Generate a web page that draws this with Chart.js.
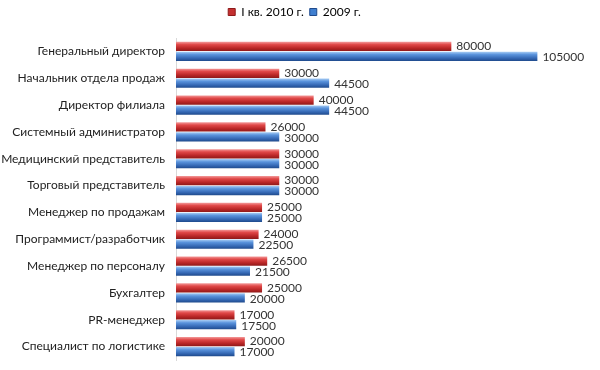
<!DOCTYPE html>
<html>
<head>
<meta charset="utf-8">
<script src="https://cdn.jsdelivr.net/npm/chart.js@4"></script>
<style>
  html, body { margin: 0; padding: 0; background: #fff; }
  #wrap { width: 600px; height: 370px; position: relative; }
</style>
</head>
<body>
<div id="wrap"><canvas id="chart"></canvas></div>
<script>
// ── Data ───────────────────────────────────────────────────────────────────────
const POSITIONS = [
  'Генеральный директор',
  'Начальник отдела продаж',
  'Директор филиала',
  'Системный администратор',
  'Медицинский представитель',
  'Торговый представитель',
  'Менеджер по продажам',
  'Программист/разработчик',
  'Менеджер по персоналу',
  'Бухгалтер',
  'PR-менеджер',
  'Специалист по логистике',
];
const SALARY_2010Q1 = [80000, 30000, 40000, 26000, 30000, 30000, 25000, 24000, 26500, 25000, 17000, 20000];
const SALARY_2009   = [105000, 44500, 44500, 30000, 30000, 30000, 25000, 22500, 21500, 20000, 17500, 17000];

const FONT = 'Lato';

// gradient stops per series (light top → dark bottom)
const RED_STOPS  = ['#f39a9a', '#e04848', '#b82626', '#8e1a1a'];
const BLUE_STOPS = ['#a7ccf4', '#5a93dc', '#3568b4', '#1f4a8c'];

// ── Plugins ────────────────────────────────────────────────────────────────────
// extra room under the legend so the plot starts lower
const legendGap = {
  id: 'legendGap',
  beforeInit(chart) {
    const fit = chart.legend.fit;
    chart.legend.fit = function () {
      fit.call(this);
      this.height += 10;
    };
  },
};

const barShading = {
  id: 'barShading',
  beforeDatasetsDraw(chart) {
    const ctx = chart.ctx;
    chart.data.datasets.forEach((ds, di) => {
      const stops = di === 0 ? RED_STOPS : BLUE_STOPS;
      chart.getDatasetMeta(di).data.forEach(el => {
        const top = el.y - el.height / 2, bot = el.y + el.height / 2;
        const g = ctx.createLinearGradient(0, top, 0, bot);
        g.addColorStop(0, stops[0]);
        g.addColorStop(0.3, stops[1]);
        g.addColorStop(0.7, stops[2]);
        g.addColorStop(1, stops[3]);
        el.options = Object.assign({}, el.options, { backgroundColor: g });
      });
    });
  },
};

const valueLabels = {
  id: 'valueLabels',
  afterDatasetsDraw(chart) {
    const ctx = chart.ctx;
    ctx.save();
    ctx.font = `12px ${FONT}`;
    ctx.fillStyle = '#333';
    ctx.textBaseline = 'middle';
    ctx.textAlign = 'left';
    chart.data.datasets.forEach((ds, di) => {
      chart.getDatasetMeta(di).data.forEach((el, i) => {
        ctx.fillText(String(ds.data[i]), el.x + 5, el.y + (di === 0 ? 0 : 1));
      });
    });
    ctx.restore();
  },
};

// ── Chart ──────────────────────────────────────────────────────────────────────
new Chart(document.getElementById('chart'), {
  type: 'bar',
  data: {
    labels: POSITIONS,
    datasets: [
      {
        label: 'I кв. 2010 г.',
        data: SALARY_2010Q1,
        backgroundColor: '#d03a3a',
        borderWidth: 0,
        categoryPercentage: 0.74,
        barPercentage: 0.93,
      },
      {
        label: '2009 г.',
        data: SALARY_2009,
        backgroundColor: '#4a86d8',
        borderWidth: 0,
        categoryPercentage: 0.74,
        barPercentage: 0.93,
      },
    ],
  },
  options: {
    indexAxis: 'y',
    responsive: true,
    maintainAspectRatio: false,
    animation: false,
    layout: { padding: { left: 0, right: 11, top: 0, bottom: 10 } },
    plugins: {
      legend: {
        position: 'top',
        labels: {
          usePointStyle: true,
          pointStyle: 'rect',
          boxWidth: 7,
          boxHeight: 7,
          padding: 6,
          font: { family: FONT, size: 12 },
          color: '#333',
          generateLabels: (chart) => chart.data.datasets.map((ds, i) => ({
            text: ds.label,
            fillStyle: i === 0 ? '#c43030' : '#3f7fd0',
            strokeStyle: i === 0 ? '#8e1a1a' : '#1f4a8c',
            lineWidth: 1,
            pointStyle: 'rect',
            datasetIndex: i,
          })),
        },
      },
      tooltip: { enabled: false },
    },
    scales: {
      x: {
        display: false,
        min: 0,
        max: 120000,
      },
      y: {
        grid: { display: false, drawTicks: false },
        border: { display: true, color: '#d9d9d9', width: 1 },
        ticks: {
          padding: 11,
          font: { family: FONT, size: 12 },
          color: '#222',
        },
        afterFit: (scale) => {
          scale.width = 176;
          scale.paddingTop = 0;
          scale.paddingBottom = 0;
        },
      },
    },
  },
  plugins: [legendGap, barShading, valueLabels],
});
</script>
</body>
</html>
